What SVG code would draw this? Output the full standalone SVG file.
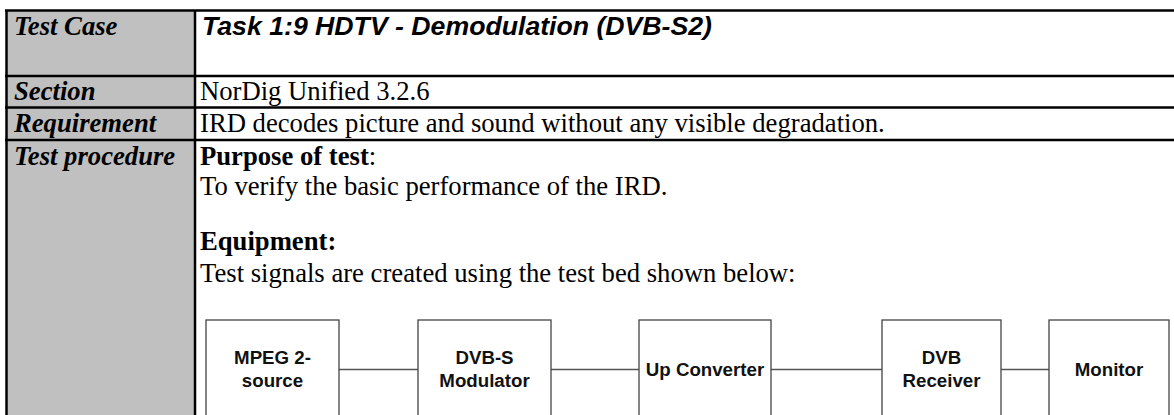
<svg xmlns="http://www.w3.org/2000/svg" width="1174" height="415" viewBox="0 0 1174 415">
<style>
.hdr{font-family:"Liberation Serif","Times New Roman",serif;font-weight:bold;font-style:italic;font-size:26.67px;fill:#000}
.title{font-family:"Liberation Sans",Arial,sans-serif;font-weight:bold;font-style:italic;font-size:26.67px;fill:#000}
.body{font-family:"Liberation Serif","Times New Roman",serif;font-size:26.67px;fill:#000}
.b{font-weight:bold}
.tl{stroke:#000;stroke-width:2.5;fill:none}
.box{fill:#fff;stroke:#444;stroke-width:1.3}
.lbl{font-family:"Liberation Sans",Arial,sans-serif;font-weight:bold;font-size:18.7px;fill:#111;text-anchor:middle}
.conn{stroke:#555;stroke-width:1.3;fill:none}
</style>
<rect x="0" y="0" width="1174" height="415" fill="#fff"/>
<g id="table">
<rect x="6" y="10" width="189" height="405" fill="#c0c0c0"/>
<line class="tl" x1="5" y1="10.5" x2="1174" y2="10.5"/>
<line class="tl" x1="6.5" y1="10" x2="6.5" y2="415"/>
<line class="tl" x1="195" y1="10" x2="195" y2="415"/>
<line class="tl" x1="5" y1="76" x2="1174" y2="76"/>
<line class="tl" x1="5" y1="107.5" x2="1174" y2="107.5"/>
<line class="tl" x1="5" y1="140" x2="1174" y2="140"/>
<text class="hdr" x="14" y="35">Test Case</text>
<text class="hdr" x="14" y="100">Section</text>
<text class="hdr" x="14" y="132">Requirement</text>
<text class="hdr" x="14" y="165">Test procedure</text>
<text class="title" x="202" y="35">Task 1:9 HDTV - Demodulation (DVB-S2)</text>
<text class="body" x="200" y="100">NorDig Unified 3.2.6</text>
<text class="body" x="200" y="132">IRD decodes picture and sound without any visible degradation.</text>
<text class="body" x="200" y="165"><tspan class="b">Purpose of test</tspan>:</text>
<text class="body" x="200" y="195">To verify the basic performance of the IRD.</text>
<text class="body b" x="200" y="250">Equipment:</text>
<text class="body" x="200" y="282">Test signals are created using the test bed shown below:</text>
</g>
<g id="connectors">
<line class="conn" x1="339" y1="369.5" x2="418" y2="369.5"/>
<line class="conn" x1="551" y1="369.5" x2="639" y2="369.5"/>
<line class="conn" x1="771" y1="369.5" x2="882" y2="369.5"/>
<line class="conn" x1="1001" y1="369.5" x2="1049" y2="369.5"/>
</g>
<g id="mpeg">
<rect class="box" x="206" y="320" width="133" height="110"/>
<text class="lbl" x="272.5" y="364">MPEG 2-</text>
<text class="lbl" x="272.5" y="387">source</text>
</g>
<g id="dvbs">
<rect class="box" x="418" y="320" width="133" height="110"/>
<text class="lbl" x="484.5" y="364">DVB-S</text>
<text class="lbl" x="484.5" y="387">Modulator</text>
</g>
<g id="upconv">
<rect class="box" x="639" y="320" width="132" height="110"/>
<text class="lbl" x="705" y="376">Up Converter</text>
</g>
<g id="dvbrx">
<rect class="box" x="882" y="320" width="119" height="110"/>
<text class="lbl" x="941.5" y="364">DVB</text>
<text class="lbl" x="941.5" y="387">Receiver</text>
</g>
<g id="monitor">
<rect class="box" x="1049" y="320" width="120" height="110"/>
<text class="lbl" x="1109" y="376">Monitor</text>
</g>
</svg>
